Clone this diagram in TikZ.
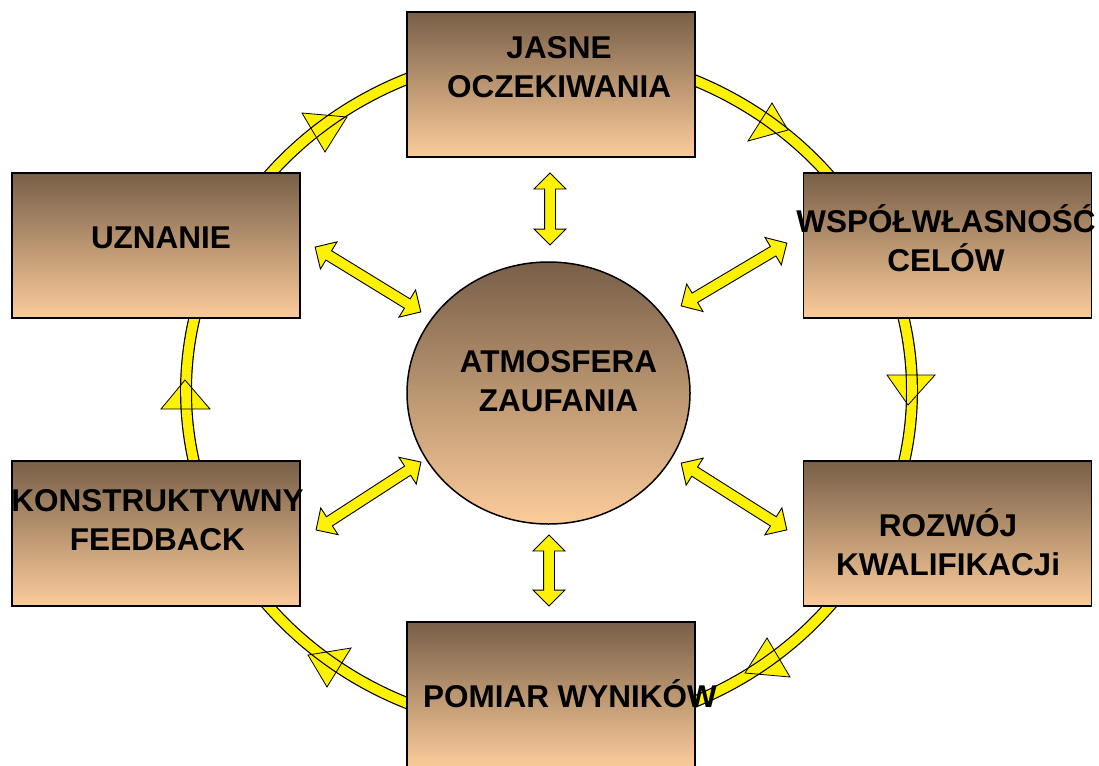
\documentclass[tikz,border=0pt]{standalone}
\usepackage{
	fontspec,			% Fonts
	xcolor				% Colours
}
\setmainfont{Liberation Sans}
\usetikzlibrary{calc,shapes.geometric,shapes.arrows}

\definecolor{boxtop}{RGB}{120,95,72}
\definecolor{boxbot}{RGB}{252,204,154}

\tikzset{
	box/.style={draw=black, line width=1.8pt, top color=boxtop, bottom color=boxbot, minimum width=288, minimum height=145, inner sep=0pt},
	lbl/.style={font=\fontsize{31.5}{39}\selectfont\bfseries, align=center, inner sep=0pt},
	ring/.style={draw=black, line width=1.2pt, double=yellow, double distance=9.6pt},
	dblarrow/.style={double arrow, draw=black, line width=0.9pt, fill=yellow, inner sep=5pt, double arrow head extend=10.5pt, double arrow tip angle=90},
}

\begin{document}
\begin{tikzpicture}[x=1pt,y=-1pt]
	\useasboundingbox (0,0) rectangle (1099,765);

	% Arrow heads on the ring (fill first, outline later).
	\foreach \ax/\ay/\bx/\by/\cx/\cy in {302/113/347/117/325/152, 748/141/772/103/788/130, 887/375/935/375/908/405, 767/638/790/677/745/673, 351/648/327/687/308/655, 161/409/210/409/185/380}
		\fill[yellow] (\ax,\ay) -- (\bx,\by) -- (\cx,\cy) -- cycle;

	% Ring behind the boxes.
	\coordinate (rc) at (549,391);
	\draw[ring] (rc) ellipse [x radius=363, y radius=339];

	\foreach \ax/\ay/\bx/\by/\cx/\cy in {302/113/347/117/325/152, 748/141/772/103/788/130, 887/375/935/375/908/405, 767/638/790/677/745/673, 351/648/327/687/308/655, 161/409/210/409/185/380}
		\draw[line width=0.8pt] (\ax,\ay) -- (\bx,\by) -- (\cx,\cy) -- cycle;

	% Double arrows round the centre.
	\coordinate (t1) at (550,173);
	\coordinate (t2) at (550,245);
	\coordinate (b1) at (549,535);
	\coordinate (b2) at (549,606);
	\coordinate (ul1) at (315,247);
	\coordinate (ul2) at (421,312);
	\coordinate (ur1) at (681,306);
	\coordinate (ur2) at (787,243);
	\coordinate (ll1) at (316,530);
	\coordinate (ll2) at (421,462);
	\coordinate (lr1) at (681,463);
	\coordinate (lr2) at (787,530);
	\path (t1) -- (t2) node[midway, sloped, dblarrow, minimum height=72] (a-t) {};
	\path (b1) -- (b2) node[midway, sloped, dblarrow, minimum height=71] (a-b) {};
	\path (ul1) -- (ul2) node[midway, sloped, dblarrow, minimum height=124] (a-ul) {};
	\path (ur1) -- (ur2) node[midway, sloped, dblarrow, minimum height=123] (a-ur) {};
	\path (ll1) -- (ll2) node[midway, sloped, dblarrow, minimum height=125] (a-ll) {};
	\path (lr1) -- (lr2) node[midway, sloped, dblarrow, minimum height=125] (a-lr) {};

	% Boxes.
	\node[box] (jasne) at (551,84.5) {};
	\node[box] (wspol) at (947.5,245.5) {};
	\node[box] (uznanie) at (156,245.5) {};
	\node[box] (konstr) at (156,533.5) {};
	\node[box] (rozwoj) at (947.5,533.5) {};
	\node[box] (pomiar) at (551,694.5) {};
	\node[draw=black, line width=1.5pt, ellipse, top color=boxtop, bottom color=boxbot, minimum width=283, minimum height=262, inner sep=0pt] (atm) at (548.5,393) {};

	\node[lbl] (jasne-t) at ($(jasne)+(8,-17)$) {JASNE\\OCZEKIWANIA};
	\node[lbl] (wspol-t) at ($(wspol)+(-1.5,-7)$) {WSPÓŁWŁASNOŚĆ\\CELÓW};
	\node[lbl] (uznanie-t) at ($(uznanie)+(5,-7.5)$) {UZNANIE};
	\node[lbl] (konstr-t) at ($(konstr)+(1.5,-13.5)$) {KONSTRUKTYWNY\\FEEDBACK};
	\node[lbl] (rozwoj-t) at ($(rozwoj)+(0.5,9)$) {ROZWÓJ\\KWALIFIKACJi};
	\node[lbl] (pomiar-t) at ($(pomiar)+(19,-1)$) {POMIAR WYNIKÓW};
	\node[lbl] (atm-t) at ($(atm)+(10,-12)$) {ATMOSFERA\\ZAUFANIA};
\end{tikzpicture}
\end{document}
